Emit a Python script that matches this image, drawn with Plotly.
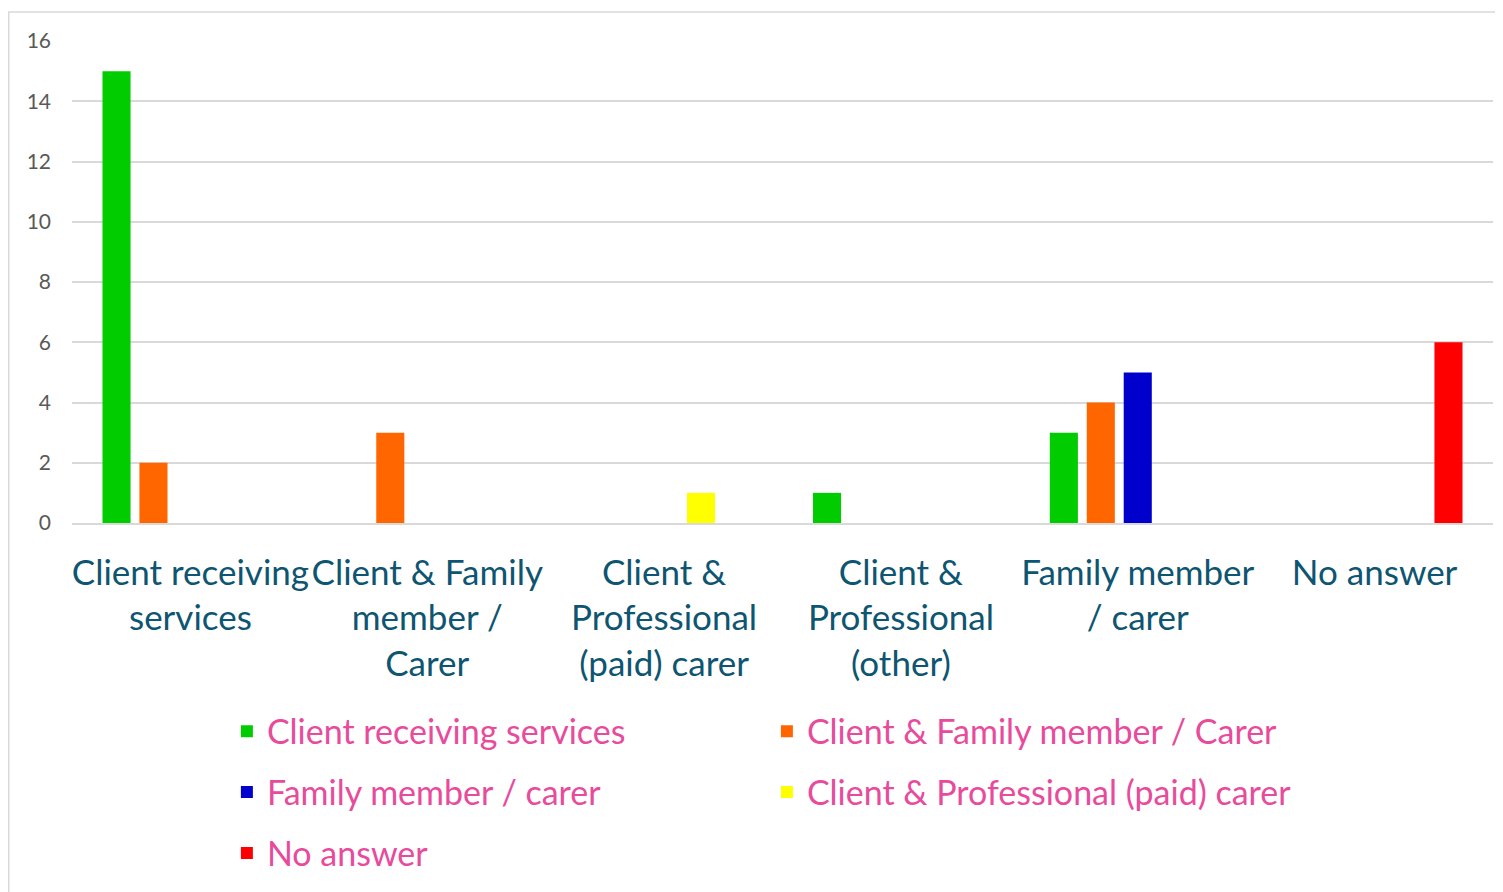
import plotly.graph_objects as go

categories = ["Client receiving services", "Client & Family member / Carer",
              "Client & Professional (paid) carer", "Client & Professional (other)",
              "Family member / carer", "No answer"]
tick_labels = ["Client receiving<br>services", "Client & Family<br>member /<br>Carer",
               "Client &<br>Professional<br>(paid) carer", "Client &<br>Professional<br>(other)",
               "Family member<br>/ carer", "No answer"]

series_names = ["Client receiving services", "Client & Family member / Carer",
                "Family member / carer", "Client & Professional (paid) carer", "No answer"]
s_client = [15, 0, 0, 1, 3, 0]
s_client_family = [2, 3, 0, 0, 4, 0]
s_family = [0, 0, 0, 0, 5, 0]
s_client_prof = [0, 0, 1, 0, 0, 0]
s_no_answer = [0, 0, 0, 0, 0, 6]
series_values = [s_client, s_client_family, s_family, s_client_prof, s_no_answer]
colors = ["#00CC00", "#FF6600", "#0000CC", "#FFFF00", "#FF0000"]
legend_ids = ["legend", "legend", "legend2", "legend2", "legend3"]

FONT = "Lato, 'Open Sans', sans-serif"

fig = go.Figure()
for name, vals, col, lg in zip(series_names, series_values, colors, legend_ids):
    fig.add_trace(go.Bar(x=categories, y=vals, name=name, legend=lg,
                         marker=dict(color=col, line=dict(width=0))))

leg_common = dict(orientation="h", x=0.109, xanchor="left", yanchor="middle",
                  entrywidth=495, entrywidthmode="pixels",
                  font=dict(size=34, color="#E84B9C", family=FONT),
                  traceorder="normal", bgcolor="rgba(0,0,0,0)")

fig.update_layout(
    width=1495, height=884,
    margin=dict(l=64, r=10, t=33, b=367),
    paper_bgcolor="white", plot_bgcolor="white",
    barmode="group", bargap=0.22, bargroupgap=0.24,
    font=dict(family=FONT),
    showlegend=True,
    legend=dict(leg_common, y=-0.4327),
    legend2=dict(leg_common, y=-0.559),
    legend3=dict(leg_common, y=-0.6853),
    shapes=[dict(type="rect", xref="paper", yref="paper",
                 x0=-0.0445, x1=1.03, y0=-0.9, y1=1.06,
                 line=dict(color="#D9D9D9", width=1.5), fillcolor="rgba(0,0,0,0)",
                 layer="below")],
)
fig.update_xaxes(tickmode="array", tickvals=categories, ticktext=tick_labels,
                 tickfont=dict(size=35, color="#0E5571", family=FONT),
                 showline=True, linecolor="#D9D9D9", linewidth=1.5,
                 ticks="", ticklabelstandoff=18, showgrid=False)
fig.update_yaxes(range=[0, 16], dtick=2, showgrid=True, gridcolor="#D9D9D9", gridwidth=1.5,
                 zeroline=False, tickfont=dict(size=21, color="#595959", family=FONT),
                 ticks="", ticklabelstandoff=20)

fig.write_html("out.html")
